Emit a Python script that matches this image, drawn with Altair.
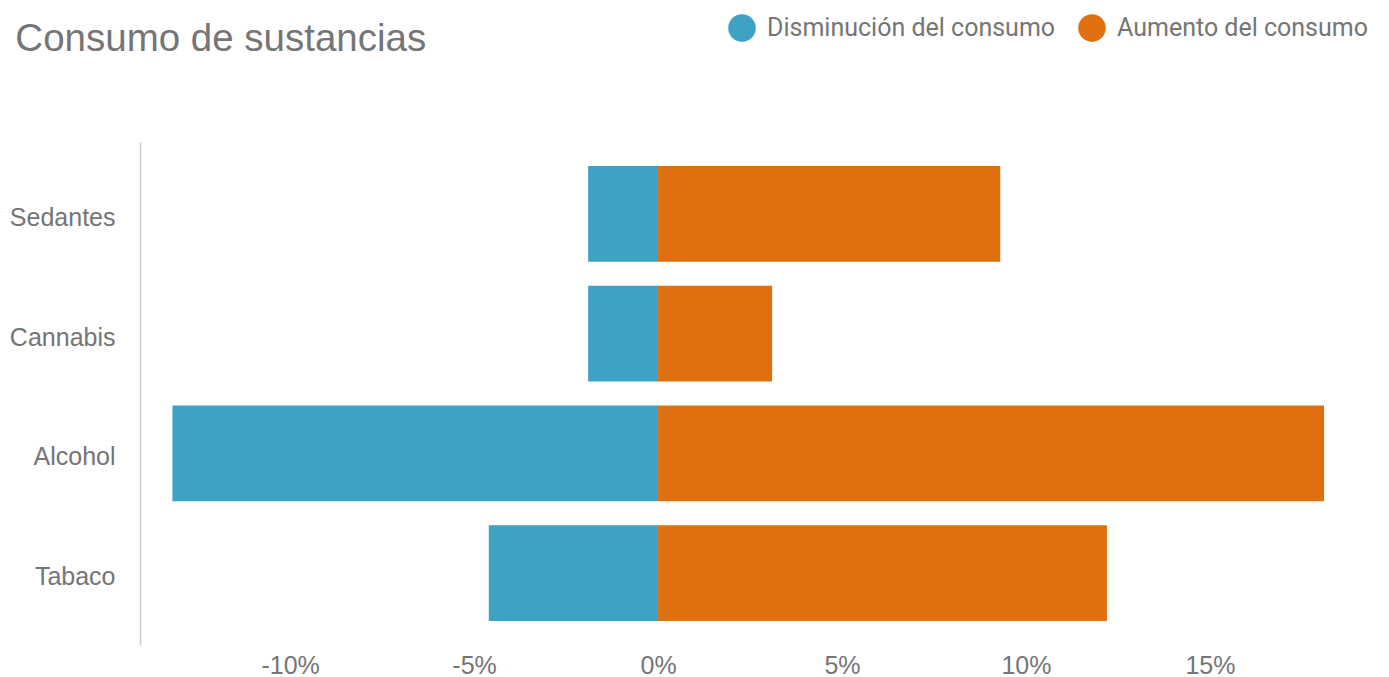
import altair as alt
import pandas as pd

categories = ["Sedantes", "Cannabis", "Alcohol", "Tabaco"]
disminucion = [-1.9, -1.9, -13.2, -4.6]
aumento = [9.3, 3.1, 18.1, 12.2]
series = ["Disminución del consumo", "Aumento del consumo"]
colors = ["#3DA2C3", "#E0700F"]
x_ticks = [-10, -5, 0, 5, 10, 15]

rows = []
for c, d, a in zip(categories, disminucion, aumento):
    rows.append({"sustancia": c, "serie": series[0], "valor": d})
    rows.append({"sustancia": c, "serie": series[1], "valor": a})
df = pd.DataFrame(rows)

gray = "#757575"

chart = alt.Chart(df).mark_bar().encode(
    y=alt.Y("sustancia:N", sort=categories, title=None,
            scale=alt.Scale(paddingInner=0.2, paddingOuter=0.2),
            axis=alt.Axis(ticks=False, domain=True, domainColor="#cccccc", domainWidth=1.5,
                          labelFont="Liberation Sans", labelFontSize=25, labelColor=gray,
                          labelPadding=25, labelOffset=4, grid=False)),
    x=alt.X("valor:Q", stack=None, title=None,
            scale=alt.Scale(domain=[-14.08, 19.35], nice=False, zero=False),
            axis=alt.Axis(values=x_ticks, format=".0f", labelExpr="datum.value + '%'",
                          ticks=False, domain=False, grid=False,
                          labelFont="Liberation Sans", labelFontSize=25, labelColor=gray,
                          labelPadding=8)),
    color=alt.Color("serie:N", sort=series,
                    scale=alt.Scale(domain=series, range=colors),
                    legend=alt.Legend(title=None, orient="none", direction="horizontal",
                                      legendX=588, legendY=-128, symbolType="circle",
                                      symbolSize=760, symbolStrokeWidth=0, symbolOpacity=1,
                                      labelFont="Roboto", labelFontSize=25, labelColor=gray,
                                      labelOffset=11, columnPadding=22, labelLimit=400)),
).properties(
    width=1230,
    height=503,
    title=alt.TitleParams("Consumo de sustancias", anchor="start", font="Liberation Sans",
                          fontSize=38.5, fontWeight="normal", color=gray, dx=6, offset=0,
                          dy=45),
    autosize=alt.AutoSizeParams(type="none"),
    padding={"left": 140, "top": 142, "right": 19, "bottom": 32},
).configure_view(stroke=None)

chart.save("out.html", embed_options={"renderer": "svg", "actions": False})
